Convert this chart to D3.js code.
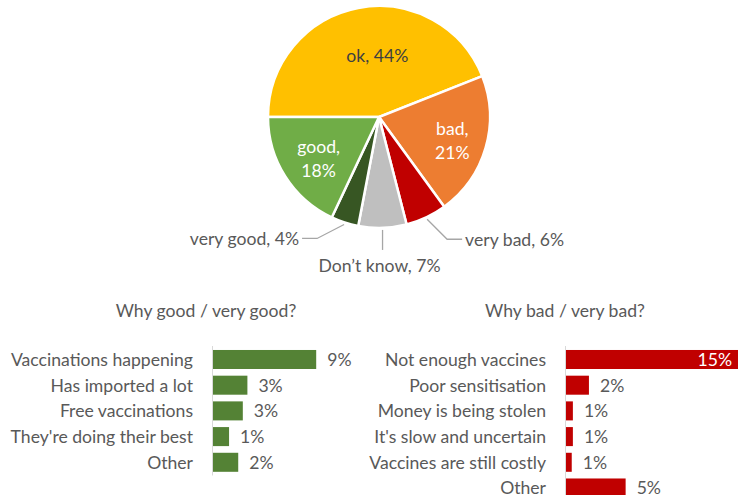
<!DOCTYPE html>
<html>
<head>
<meta charset="utf-8">
<script src="https://cdn.jsdelivr.net/npm/d3@7"></script>
<style>
  body { margin: 0; background: #fff; }
  svg text { font-family: Lato, "Open Sans", sans-serif; fill: #595959; }
</style>
</head>
<body>
<svg id="chart" width="738" height="495"></svg>
<script>
// pie: opinion shares (%)
var pieCats = ["ok", "bad", "very bad", "Don\u2019t know", "very good", "good"];
var pieVals = [44, 21, 6, 7, 4, 18];
var pieColors = ["#FFC000", "#ED7D31", "#C00000", "#BFBFBF", "#375623", "#70AD47"];

// why good / very good
var goodCats = ["Vaccinations happening", "Has imported a lot", "Free vaccinations", "They're doing their best", "Other"];
var goodVals = [9.0, 3.0, 2.6, 1.4, 2.2];
var goodLabels = ["9%", "3%", "3%", "1%", "2%"];

// why bad / very bad
var badCats = ["Not enough vaccines", "Poor sensitisation", "Money is being stolen", "It's slow and uncertain", "Vaccines are still costly", "Other"];
var badVals = [15.0, 2.0, 0.6, 0.6, 0.5, 5.2];
var badLabels = ["15%", "2%", "1%", "1%", "1%", "5%"];

var svg = d3.select("#chart");
var fs = 17.6;

// ---------- pie ----------
var cx = 379, cy = 117, R = 111;
var pie = d3.pie().sort(null).value(function (d) { return d; }).startAngle(-Math.PI / 2).endAngle(Math.PI * 1.5);
var arcs = pie(pieVals);
var arc = d3.arc().innerRadius(0).outerRadius(R);
var labelArc = d3.arc().innerRadius(68).outerRadius(68);
var gPie = svg.append("g").attr("transform", "translate(" + cx + "," + cy + ")");

gPie.selectAll("path").data(arcs).enter()
    .append("path")
    .attr("d", arc)
    .style("fill", function (d, i) { return pieColors[i]; })
    .attr("stroke", "#fff")
    .attr("stroke-width", 2.5);

// inside labels (ok, bad, good)
var inside = { "ok": { color: "#404040", lines: ["ok, 44%"], dx: 11, dy: 5 },
               "bad": { color: "#fff", lines: ["bad,", "21%"], dx: 8, dy: 4 },
               "good": { color: "#fff", lines: ["good,", "18%"], dx: -3, dy: 5 } };
arcs.forEach(function (d, i) {
    var cfg = inside[pieCats[i]];
    if (!cfg) return;
    var c = labelArc.centroid(d);
    var x = c[0] + cfg.dx, y = c[1] + cfg.dy;
    var t = gPie.append("text")
        .attr("x", x).attr("y", y - (cfg.lines.length - 1) * 12)
        .attr("text-anchor", "middle")
        .attr("dominant-baseline", "central")
        .style("font-size", fs + "px")
        .style("fill", cfg.color);
    cfg.lines.forEach(function (l, k) {
        t.append("tspan").attr("x", x).attr("dy", k === 0 ? 0 : 24).text(l);
    });
});

// outside labels with leader lines
var outside = { "very bad": { dx: 20, dy: 20, tail: 15, anchor: "start" },
                "Don\u2019t know": { dx: 0, dy: 20, tail: 0, anchor: "middle" },
                "very good": { dx: -27, dy: 14, tail: -15, anchor: "end" } };
arcs.forEach(function (d, i) {
    var cfg = outside[pieCats[i]];
    if (!cfg) return;
    var a = (d.startAngle + d.endAngle) / 2;
    var p0 = [Math.sin(a) * (R + 2), -Math.cos(a) * (R + 2)];
    var p1 = [p0[0] + cfg.dx, p0[1] + cfg.dy];
    var p2 = [p1[0] + cfg.tail, p1[1]];
    gPie.append("path")
        .attr("d", d3.line()([p0, p1, p2]))
        .attr("stroke", "#A6A6A6").attr("stroke-width", 1.3).style("fill", "none");
    var tx = p2[0] + (cfg.anchor === "start" ? 3 : -3);
    var ty = cfg.anchor === "middle" ? p2[1] + 16 : p2[1];
    gPie.append("text")
        .attr("x", tx).attr("y", ty)
        .attr("text-anchor", cfg.anchor)
        .attr("dominant-baseline", "central")
        .style("font-size", fs + "px")
        .text(pieCats[i] + ", " + pieVals[i] + "%");
});

// ---------- bar charts ----------
var xScale = d3.scaleLinear().domain([0, 15]).range([0, 172]);

function drawBars(cats, vals, labels, x0, color, title, titleX) {
    var yScale = d3.scaleBand().domain(cats)
        .range([343.3, 343.3 + 25.7 * (cats.length + 0.26)])
        .paddingInner(0.26).paddingOuter(0.26);
    var g = svg.append("g");
    svg.append("text")
        .attr("x", titleX).attr("y", 310)
        .attr("text-anchor", "middle")
        .attr("dominant-baseline", "central")
        .style("font-size", fs + "px")
        .text(title);
    g.selectAll("rect").data(vals).enter()
        .append("rect")
        .attr("x", x0)
        .attr("y", function (d, i) { return yScale(cats[i]); })
        .attr("width", function (d) { return xScale(d); })
        .attr("height", yScale.bandwidth())
        .style("fill", color);
    // axis line
    g.append("line")
        .attr("x1", x0 - 0.5).attr("x2", x0 - 0.5)
        .attr("y1", 346).attr("y2", yScale.range()[1] - 3)
        .attr("stroke", "#D9D9D9").attr("stroke-width", 1);
    // category labels
    g.selectAll(".cat").data(cats).enter()
        .append("text")
        .attr("class", "cat")
        .attr("x", x0 - 20)
        .attr("y", function (d) { return yScale(d) + yScale.bandwidth() / 2; })
        .attr("text-anchor", "end")
        .attr("dominant-baseline", "central")
        .style("font-size", fs + "px")
        .text(function (d) { return d; });
    // value labels
    g.selectAll(".val").data(vals).enter()
        .append("text")
        .attr("class", "val")
        .attr("x", function (d) {
            return d >= 15 ? x0 + xScale(d) - 6 : x0 + xScale(d) + 11;
        })
        .attr("y", function (d, i) { return yScale(cats[i]) + yScale.bandwidth() / 2; })
        .attr("text-anchor", function (d) { return d >= 15 ? "end" : "start"; })
        .attr("dominant-baseline", "central")
        .style("font-size", fs + "px")
        .style("fill", function (d) { return d >= 15 ? "#fff" : "#595959"; })
        .text(function (d, i) { return labels[i]; });
}

drawBars(goodCats, goodVals, goodLabels, 213, "#548235", "Why good / very good?", 206);
drawBars(badCats, badVals, badLabels, 566, "#C00000", "Why bad / very bad?", 565);
</script>
</body>
</html>
